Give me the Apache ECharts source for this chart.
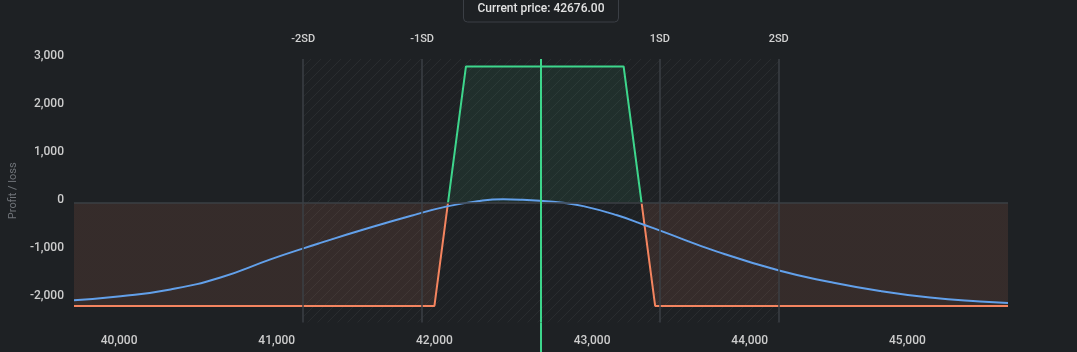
<html>
    <head>
        <meta charset="utf-8">
        <script src="https://cdn.jsdelivr.net/npm/echarts@6/dist/echarts.min.js"></script>
        <style>
            html, body {
                margin: 0;
                padding: 0;
                background: #1e2124;
            }
            #main {
                width: 1077px;
                height: 352px;
            }
        </style>
    </head>
    <body>
        <div id="main"></div>

        <script>

            var CURRENT_PRICE = 42676;

            // expiry profit / loss (iron condor)
            var plPrices = [39714, 42000, 42200, 43200, 43400, 45638];
            var plValues = [-2154, -2154, 2846, 2846, -2154, -2154];

            // today's P/L curve
            var curvePrices = [39714, 40010, 40326, 40643, 40960, 41169, 41277, 41530, 41847, 42088,
                42272, 42437, 42560, 42671, 42798, 42944, 43159, 43337, 43432, 43793,
                44192, 44509, 44826, 45143, 45460, 45638];
            var curveValues = [-2035, -1952, -1810, -1560, -1182, -952, -838, -580, -276, -71,
                30, 70, 62, 42, 5, -71, -262, -470, -583, -1020,
                -1420, -1654, -1842, -1979, -2063, -2092];

            // standard deviation markers
            var sdPrices = [41168, 41922, 43430, 44184];
            var sdLabels = ['-2SD', '-1SD', '1SD', '2SD'];

            var X_MIN = 39714;
            var X_MAX = 45638;
            var Y_MIN = -2500;
            var Y_MAX = 3000;

            var GREEN = '#3dd68c';
            var ORANGE = '#f4845f';
            var BLUE = '#62a0ea';
            var GRID_LINE = '#3b3f45';

            function zip(xs, ys) {
                var out = [];
                for (var i = 0; i < xs.length; i++) {
                    out.push([xs[i], ys[i]]);
                }
                return out;
            }

            // green above zero, orange below, split where the line crosses 0
            function splitGradient(top, bottom) {
                var hi = Math.max.apply(null, plValues);
                var lo = Math.min.apply(null, plValues);
                var z = hi / (hi - lo);
                return {
                    type: 'linear', x: 0, y: 0, x2: 0, y2: 1,
                    colorStops: [
                        {offset: 0, color: top},
                        {offset: z, color: top},
                        {offset: z, color: bottom},
                        {offset: 1, color: bottom}
                    ]
                };
            }

            function hatchPattern() {
                var c = document.createElement('canvas');
                c.width = 10;
                c.height = 10;
                var ctx = c.getContext('2d');
                ctx.strokeStyle = 'rgba(255,255,255,0.05)';
                ctx.lineWidth = 1;
                ctx.beginPath();
                ctx.moveTo(0, 10);
                ctx.lineTo(10, 0);
                ctx.moveTo(-5, 5);
                ctx.lineTo(5, -5);
                ctx.moveTo(5, 15);
                ctx.lineTo(15, 5);
                ctx.stroke();
                return c;
            }

            function fmt(v) {
                if (v % 1000 !== 0) {
                    return '';
                }
                return v.toLocaleString('en-US');
            }

            var sdLines = sdPrices.map(function (p, i) {
                return {
                    xAxis: p,
                    label: {formatter: sdLabels[i]}
                };
            });

            var chart = echarts.init(document.getElementById('main'), null, {
                renderer: 'canvas'
            });

            chart.setOption({
                backgroundColor: '#1e2124',
                animation: false,
                textStyle: {
                    fontFamily: 'Roboto'
                },
                grid: {
                    left: 74,
                    right: 69,
                    top: 59,
                    bottom: 29.5
                },
                xAxis: {
                    type: 'value',
                    min: X_MIN,
                    max: X_MAX,
                    splitNumber: 6,
                    axisLine: {show: false},
                    axisTick: {show: false},
                    splitLine: {show: false},
                    axisLabel: {
                        color: '#cdcdcd',
                        fontSize: 12,
                        fontWeight: 500,
                        margin: 12,
                        showMinLabel: false,
                        showMaxLabel: false,
                        formatter: fmt
                    }
                },
                yAxis: {
                    type: 'value',
                    min: Y_MIN,
                    max: Y_MAX,
                    splitNumber: 5,
                    name: 'Profit / loss',
                    nameLocation: 'middle',
                    nameGap: 51,
                    nameTextStyle: {
                        color: '#6f7378',
                        fontSize: 11
                    },
                    axisLine: {show: false},
                    axisTick: {show: false},
                    splitLine: {show: false},
                    axisLabel: {
                        color: '#cdcdcd',
                        fontSize: 12,
                        fontWeight: 500,
                        margin: 10,
                        verticalAlign: 'bottom',
                        lineHeight: 6,
                        showMinLabel: false,
                        formatter: fmt
                    }
                },
                series: [
                    {
                        name: 'Expiry',
                        type: 'line',
                        data: zip(plPrices, plValues),
                        showSymbol: false,
                        lineStyle: {width: 2, color: splitGradient(GREEN, ORANGE)},
                        areaStyle: {
                            origin: 0,
                            opacity: 1,
                            color: splitGradient('rgba(61,214,140,0.08)', 'rgba(244,132,95,0.11)')
                        },
                        z: 3,
                        markArea: {
                            silent: true,
                            itemStyle: {
                                color: {image: hatchPattern(), repeat: 'repeat'}
                            },
                            data: [[{xAxis: sdPrices[0]}, {xAxis: sdPrices[3]}]]
                        },
                        markLine: {
                            silent: true,
                            symbol: 'none',
                            lineStyle: {color: GRID_LINE, width: 1.5, type: 'solid'},
                            label: {
                                position: 'end',
                                distance: 14,
                                color: '#d2d2d2',
                                fontSize: 11,
                                fontWeight: 500
                            },
                            data: sdLines.concat([
                                {yAxis: 0, label: {show: false}}
                            ])
                        }
                    },
                    {
                        name: 'Today',
                        type: 'line',
                        smooth: true,
                        data: zip(curvePrices, curveValues),
                        showSymbol: false,
                        color: BLUE,
                        lineStyle: {width: 2, color: BLUE},
                        z: 4,
                        markLine: {
                            silent: true,
                            symbol: 'none',
                            lineStyle: {color: GREEN, width: 2, type: 'solid'},
                            label: {show: false},
                            data: [{xAxis: CURRENT_PRICE}]
                        }
                    }
                ]
            });

            // current price connector and badge, placed through the axis scales
            var px = chart.convertToPixel({xAxisIndex: 0}, CURRENT_PRICE);
            var top = chart.convertToPixel({yAxisIndex: 0}, Y_MAX);
            var bottom = chart.convertToPixel({yAxisIndex: 0}, Y_MIN);
            var zr = chart.getZr();
            var g = echarts.graphic;

            zr.add(new g.Line({
                shape: {x1: px, y1: 22, x2: px, y2: top},
                style: {stroke: GRID_LINE, lineWidth: 2},
                z: 100
            }));
            zr.add(new g.Line({
                shape: {x1: px, y1: bottom, x2: px, y2: 352},
                style: {stroke: GREEN, lineWidth: 2},
                z: 100
            }));
            zr.add(new g.Rect({
                shape: {x: px - 77.5, y: -5, width: 155, height: 27, r: 4},
                style: {fill: '#1e2124', stroke: GRID_LINE, lineWidth: 1},
                z: 101
            }));
            zr.add(new g.Text({
                x: px,
                y: 9,
                style: {
                    text: 'Current price: ' + CURRENT_PRICE.toFixed(2),
                    fill: '#e2e2e2',
                    font: '500 12px Roboto',
                    align: 'center',
                    verticalAlign: 'middle'
                },
                z: 102
            }));

        </script>
    </body>
</html>
